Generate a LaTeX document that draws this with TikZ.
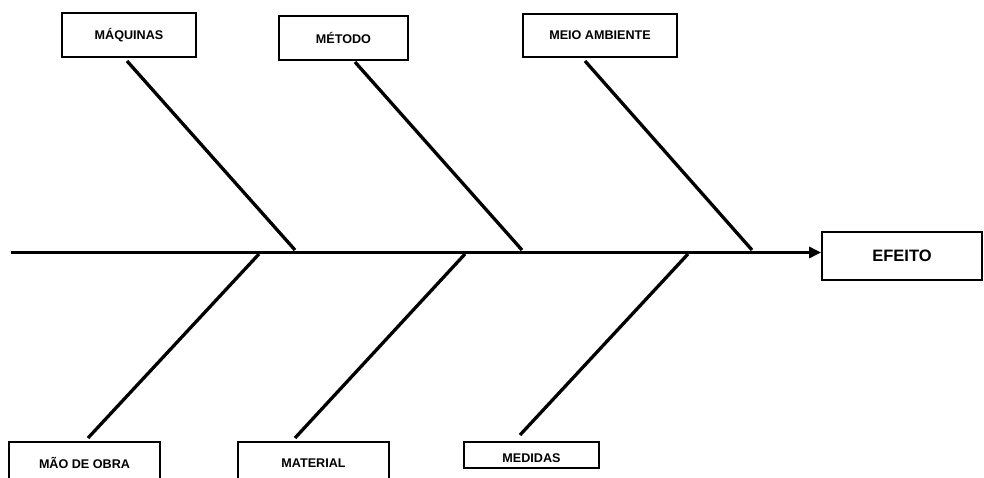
\documentclass[tikz,border=0pt]{standalone}
\usepackage{fontspec}
\setmainfont{Liberation Sans}
\usetikzlibrary{arrows.meta}
\begin{document}
\begin{tikzpicture}[x=1pt,y=-1pt,
  cause/.style={draw=black,line width=1.8pt,fill=white,inner sep=0pt,
    font=\fontsize{12.6}{15}\selectfont\bfseries},
  effect/.style={cause,font=\fontsize{16.5}{19}\selectfont\bfseries},
  spine/.style={line width=3.8pt,-{Triangle[length=12pt,width=11pt]}},
  bone/.style={line width=3.3pt}]
\useasboundingbox (0,0) rectangle (984,478);
\clip (0,0) rectangle (984,478);

% cause boxes (top row)
\node[cause,minimum width=134pt,minimum height=44pt] (maq) at (129,35) {MÁQUINAS};
\node[cause,minimum width=129pt,minimum height=44pt] (met) at (343.5,38) {MÉTODO};
\node[cause,minimum width=154pt,minimum height=43pt] (amb) at (600,35.5) {MEIO AMBIENTE};
% cause boxes (bottom row)
\node[cause,minimum width=151pt,minimum height=42pt] (mao) at (84.5,463) {MÃO DE OBRA};
\node[cause,minimum width=151pt,minimum height=42pt] (mat) at (313.5,463) {MATERIAL};
\node[cause,minimum width=135pt,minimum height=26pt,
  label={[font=\fontsize{12.6}{15}\selectfont\bfseries,yshift=-3.5pt]center:MEDIDAS}]
  (med) at (531.5,455) {};
% effect box
\node[effect,minimum width=160pt,minimum height=48pt] (efe) at (902,256) {EFEITO};

% spine
\coordinate (tail) at (11,252.5);
\draw[spine] (tail) -- (efe.west |- tail);

% bone end points
\coordinate (maqA) at (127,61);   \coordinate (maqB) at (295,250);
\coordinate (metA) at (355,62);   \coordinate (metB) at (522,250);
\coordinate (ambA) at (585,61);   \coordinate (ambB) at (752,250);
\coordinate (maoA) at (259,254);  \coordinate (maoB) at (88,438);
\coordinate (matA) at (465,254);  \coordinate (matB) at (295,438);
\coordinate (medA) at (688,254);  \coordinate (medB) at (520,435);

\draw[bone] (maqA) -- (maqB);
\draw[bone] (metA) -- (metB);
\draw[bone] (ambA) -- (ambB);
\draw[bone] (maoA) -- (maoB);
\draw[bone] (matA) -- (matB);
\draw[bone] (medA) -- (medB);
\end{tikzpicture}
\end{document}
